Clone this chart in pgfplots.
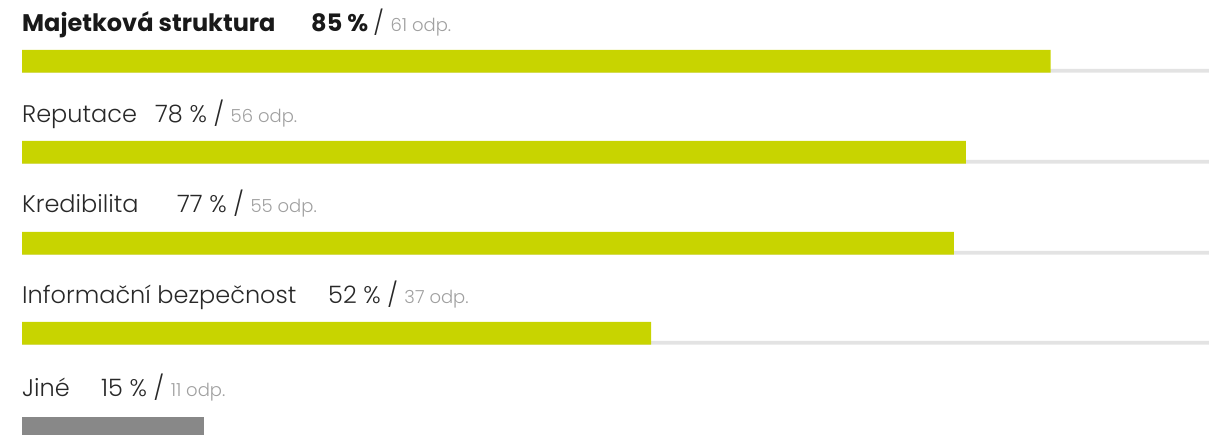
\documentclass[border=0pt]{standalone}
\usepackage{fontspec}
\setmainfont{Poppins}[UprightFont=* Light, BoldFont=* Bold]
\usepackage{pgfplots}
\pgfplotsset{compat=1.18}
\definecolor{bargreen}{RGB}{200,212,0}
\definecolor{bargray}{RGB}{136,136,136}
\definecolor{track}{RGB}{227,227,227}
\definecolor{labtxt}{RGB}{40,40,40}
\definecolor{odptxt}{RGB}{160,160,160}
\newcommand{\lab}{\fontsize{24bp}{28bp}\selectfont}
\newcommand{\odp}{\fontsize{18bp}{21bp}\selectfont}
\begin{document}
\begin{tikzpicture}
\useasboundingbox (0,0) rectangle (1209bp,435bp);
\begin{axis}[
  at={(22bp,0bp)}, anchor=south west,
  scale only axis, width=1187bp, height=435bp,
  xmin=0, xmax=98.1, ymin=0, ymax=435, y dir=reverse,
  axis lines=none, ticks=none, clip=true,
]
% tracks
\addplot[xbar, bar width=3.7bp, bar shift=0pt, fill=track, draw=none]
  coordinates {(98.1,70.85) (98.1,161.8) (98.1,252.8) (98.1,342.8) (98.1,437.8)};
% values
\addplot[xbar, bar width=22.7bp, bar shift=0pt, fill=bargreen, draw=none]
  coordinates {(85,61.35) (78,152.3) (77,243.3) (52,333.3)};
\addplot[xbar, bar width=22.7bp, bar shift=0pt, fill=bargray, draw=none]
  coordinates {(15,428.3)};
\end{axis}
\begin{scope}[every node/.style={inner sep=0pt, anchor=base west}]
\node[text=black!90] at (22bp,{(435-31.7)*1bp}) {\lab\bfseries Majetková struktura};
\node at (311bp,{(435-31.7)*1bp}) {\lab\bfseries\color{black!90}85 \%\ \color{labtxt}\mdseries/ \odp\color{odptxt}61 odp.};
\node[text=labtxt] at (22bp,{(435-122.3)*1bp}) {\lab Reputace};
\node at (155bp,{(435-122.3)*1bp}) {\lab\color{labtxt}78 \% / \odp\color{odptxt}56 odp.};
\node[text=labtxt] at (22bp,{(435-212.5)*1bp}) {\lab Kredibilita};
\node at (177bp,{(435-212.5)*1bp}) {\lab\color{labtxt}77 \% / \odp\color{odptxt}55 odp.};
\node[text=labtxt] at (22bp,{(435-303.3)*1bp}) {\lab Informační bezpečnost};
\node at (328bp,{(435-303.3)*1bp}) {\lab\color{labtxt}52 \% / \odp\color{odptxt}37 odp.};
\node[text=labtxt] at (22bp,{(435-396)*1bp}) {\lab Jiné};
\node at (101bp,{(435-396)*1bp}) {\lab\color{labtxt}15 \% / \odp\color{odptxt}11 odp.};
\end{scope}
\end{tikzpicture}
\end{document}
